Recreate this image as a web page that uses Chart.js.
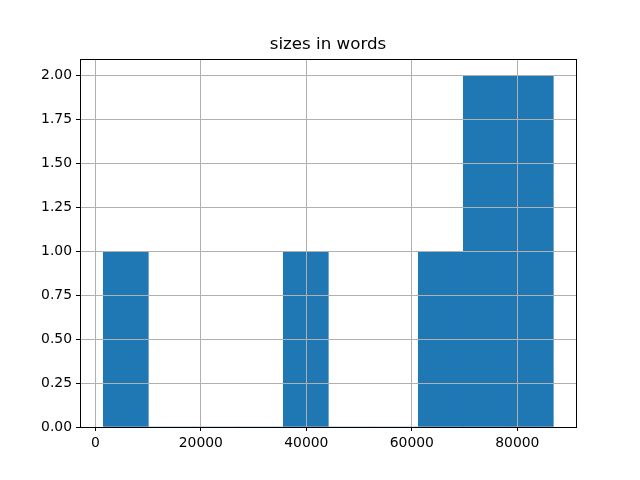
<!DOCTYPE html>
<html>
<head>
<meta charset="utf-8">
<script src="https://cdn.jsdelivr.net/npm/chart.js@4/dist/chart.umd.min.js"></script>
<style>
  html, body { margin: 0; padding: 0; background: #fff; }
  #wrap { width: 640px; height: 480px; }
</style>
</head>
<body>
<div id="wrap"><canvas id="hist"></canvas></div>
<script>
// histogram of sizes in words, 10 bins
const binEdges = [1517, 10048, 18579, 27110, 35641, 44172, 52702, 61233, 69764, 78295, 86825];
const counts = [1, 0, 0, 0, 1, 0, 0, 1, 2, 2];
const xTicks = [0, 20000, 40000, 60000, 80000];
const yTicks = [0, 0.25, 0.5, 0.75, 1.0, 1.25, 1.5, 1.75, 2.0];
const titleText = "sizes in words";

const barData = counts.map((c, i) => ({
  x: (binEdges[i] + binEdges[i + 1]) / 2,
  y: c,
}));

// matplotlib style box around the plot area, title centred over the axes
const frame = {
  id: "frame",
  afterDraw(chart) {
    const { ctx, chartArea: a } = chart;
    ctx.save();
    ctx.strokeStyle = "#000";
    ctx.lineWidth = 1;
    ctx.strokeRect(Math.round(a.left) + 0.5, Math.round(a.top) + 0.5,
      Math.round(a.right - a.left), Math.round(a.bottom - a.top));
    ctx.fillStyle = "#000";
    ctx.font = "16.7px 'DejaVu Sans'";
    ctx.textAlign = "center";
    ctx.textBaseline = "alphabetic";
    ctx.fillText(titleText, (a.left + a.right) / 2, a.top - 10);
    ctx.restore();
  },
};

const tickFont = { family: "DejaVu Sans", size: 13.9 };

new Chart(document.getElementById("hist").getContext("2d"), {
  type: "bar",
  data: {
    datasets: [{
      data: barData,
      backgroundColor: "#1f77b4",
      borderWidth: 0,
      barPercentage: 1,
      categoryPercentage: 1,
    }],
  },
  options: {
    responsive: true,
    maintainAspectRatio: false,
    animation: false,
    layout: { padding: { top: 59, right: 64, bottom: 0, left: 0 } },
    plugins: {
      legend: { display: false },
      tooltip: { enabled: false },
      title: { display: false },
    },
    scales: {
      x: {
        type: "linear",
        offset: false,
        min: -2900,
        max: 91128,
        afterBuildTicks: (s) => { s.ticks = xTicks.map((v) => ({ value: v })); },
        afterFit: (s) => { s.height = 53; },
        ticks: { color: "#000", font: tickFont, maxRotation: 0, padding: 4, callback: (v) => String(v) },
        grid: { offset: false, color: "#b0b0b0", tickColor: "#000", tickLength: 4, z: 1 },
        border: { display: false },
      },
      y: {
        min: 0,
        max: 2.095,
        afterBuildTicks: (s) => { s.ticks = yTicks.map((v) => ({ value: v })); },
        afterFit: (s) => { s.width = 80; },
        ticks: { color: "#000", font: tickFont, padding: 4, callback: (v) => v.toFixed(2) },
        grid: { color: "#b0b0b0", tickColor: "#000", tickLength: 4, z: 1 },
        border: { display: false },
      },
    },
  },
  plugins: [frame],
});
</script>
</body>
</html>
